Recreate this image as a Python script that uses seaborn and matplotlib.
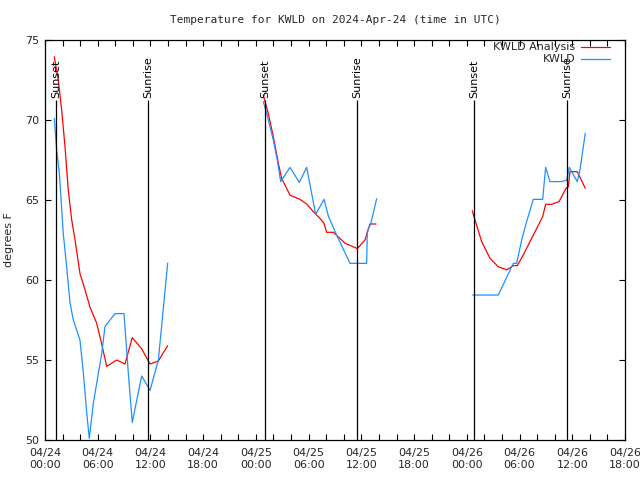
import matplotlib
matplotlib.use("Agg")
import matplotlib.pyplot as plt
import seaborn as sns
import pandas as pd

# hours since 2024-04-24 00:00 UTC
obs_t1 = [1.06, 1.33, 1.63, 2.08, 2.47, 2.84, 3.22, 3.98, 4.36, 4.75, 5.04, 5.50, 6.45, 6.83, 7.97, 8.99, 9.48, 9.93, 11.0, 11.95, 12.9, 13.96]
obs_v1 = [70.1, 68.1, 66.7, 62.9, 60.8, 58.6, 57.5, 56.25, 54.2, 51.7, 50.1, 52.3, 55.4, 57.1, 57.9, 57.9, 54.2, 51.1, 54.0, 53.1, 55.0, 61.06]
ana_t1 = [1.06, 1.51, 1.9, 2.28, 2.65, 3.04, 3.42, 3.98, 4.55, 5.12, 5.88, 6.45, 7.02, 8.16, 9.10, 9.93, 11.0, 11.95, 12.9, 13.96]
ana_v1 = [73.96, 72.5, 70.6, 68.3, 65.6, 63.75, 62.5, 60.4, 59.4, 58.3, 57.3, 56.0, 54.6, 55.0, 54.75, 56.4, 55.7, 54.75, 54.94, 55.9]

obs_t2 = [24.84, 25.23, 25.98, 26.43, 26.82, 27.88, 28.94, 29.78, 30.80, 31.75, 32.24, 33.19, 34.71, 36.60, 36.68, 37.06, 37.74]
obs_v2 = [71.14, 70.4, 68.75, 67.5, 66.15, 67.04, 66.1, 67.04, 64.1, 65.04, 64.0, 62.8, 61.04, 61.04, 63.06, 63.5, 65.08]
ana_t2 = [24.84, 25.41, 25.98, 26.55, 26.93, 27.88, 29.02, 29.78, 30.53, 31.29, 31.75, 32.05, 32.81, 34.14, 35.54, 36.41, 36.98, 37.66]
ana_v2 = [71.56, 70.4, 68.96, 67.3, 66.35, 65.3, 65.04, 64.75, 64.27, 63.85, 63.54, 62.98, 62.98, 62.3, 61.96, 62.5, 63.5, 63.5]

obs_t3 = [48.67, 51.58, 52.91, 53.29, 53.67, 54.24, 54.81, 55.56, 56.63, 56.97, 57.46, 58.80, 59.37, 59.66, 60.57, 60.88, 61.48]
obs_v3 = [59.06, 59.06, 60.6, 61.04, 61.04, 62.5, 63.65, 65.04, 65.04, 67.04, 66.15, 66.15, 66.25, 67.04, 66.15, 66.9, 69.17]
ana_t3 = [48.62, 48.93, 49.69, 50.64, 51.58, 52.54, 53.29, 53.74, 54.42, 55.56, 56.63, 56.97, 57.66, 58.49, 59.29, 59.55, 59.74, 60.57, 61.48]
ana_v3 = [64.33, 63.75, 62.4, 61.35, 60.83, 60.63, 60.9, 60.9, 61.56, 62.8, 63.96, 64.73, 64.73, 64.9, 65.73, 65.83, 66.77, 66.77, 65.73]

sun_times = [1.25, 11.7, 25.05, 35.5, 48.85, 59.4]
sun_labels = ["Sunset", "Sunrise", "Sunset", "Sunrise", "Sunset", "Sunrise"]

tick_hours = [0, 6, 12, 18, 24, 30, 36, 42, 48, 54, 60, 66]
tick_labels = ["04/24\n00:00", "04/24\n06:00", "04/24\n12:00", "04/24\n18:00",
               "04/25\n00:00", "04/25\n06:00", "04/25\n12:00", "04/25\n18:00",
               "04/26\n00:00", "04/26\n06:00", "04/26\n12:00", "04/26\n18:00"]

sns.set_theme(style="white")
plt.rcParams['font.family'] = ['DejaVu Sans']

fig = plt.figure(figsize=(6.4, 4.8), dpi=100)
ax = fig.add_axes([45/640, 40/480, 580/640, 400/480])

RED = "#ff0000"
BLUE = "#1e90ff"

for t, v in [(ana_t1, ana_v1), (ana_t2, ana_v2), (ana_t3, ana_v3)]:
    sns.lineplot(x=t, y=v, color=RED, lw=0.9, ax=ax, estimator=None, sort=False)
for t, v in [(obs_t1, obs_v1), (obs_t2, obs_v2), (obs_t3, obs_v3)]:
    sns.lineplot(x=t, y=v, color=BLUE, lw=0.9, ax=ax, estimator=None, sort=False)

ax.vlines(sun_times, 50, 71.25, color="black", lw=0.9)
for t, lab in zip(sun_times, sun_labels):
    ax.text(t, 71.4, lab, rotation=90, ha="center", va="bottom", fontsize=8,
            color="black")

ax.set_xlim(0, 66)
ax.set_ylim(50, 75)
ax.set_xticks(tick_hours)
ax.set_xticklabels(tick_labels, fontsize=8)
ax.set_xticks(list(range(0, 67, 2)), minor=True)
ax.set_yticks([50, 55, 60, 65, 70, 75])
ax.set_yticklabels(["50", "55", "60", "65", "70", "75"], fontsize=8)
ax.tick_params(axis="both", which="both", direction="in", top=True, right=True,
               bottom=True, left=True, length=4, width=0.8, color="black", pad=4)
ax.tick_params(axis="x", which="major", pad=6)
for s in ax.spines.values():
    s.set_color("black")
    s.set_linewidth(0.9)
ax.set_xlabel("")
ax.set_ylabel("degrees F", fontsize=8, labelpad=8)

ax.set_title("Temperature for KWLD on 2024-Apr-24 (time in UTC)",
             fontsize=8, family="DejaVu Sans Mono", pad=12)

# legend (gnuplot style)
fig.text(575/640, 1 - 47/480, "KWLD Analysis", ha="right", va="center", fontsize=8)
fig.text(575/640, 1 - 59/480, "KWLD", ha="right", va="center", fontsize=8)
fig.add_artist(plt.Line2D([581/640, 610/640], [1 - 47/480, 1 - 47/480], color=RED, lw=0.9))
fig.add_artist(plt.Line2D([581/640, 610/640], [1 - 59/480, 1 - 59/480], color=BLUE, lw=0.9))

fig.savefig("out.png", dpi=100, facecolor="white")
